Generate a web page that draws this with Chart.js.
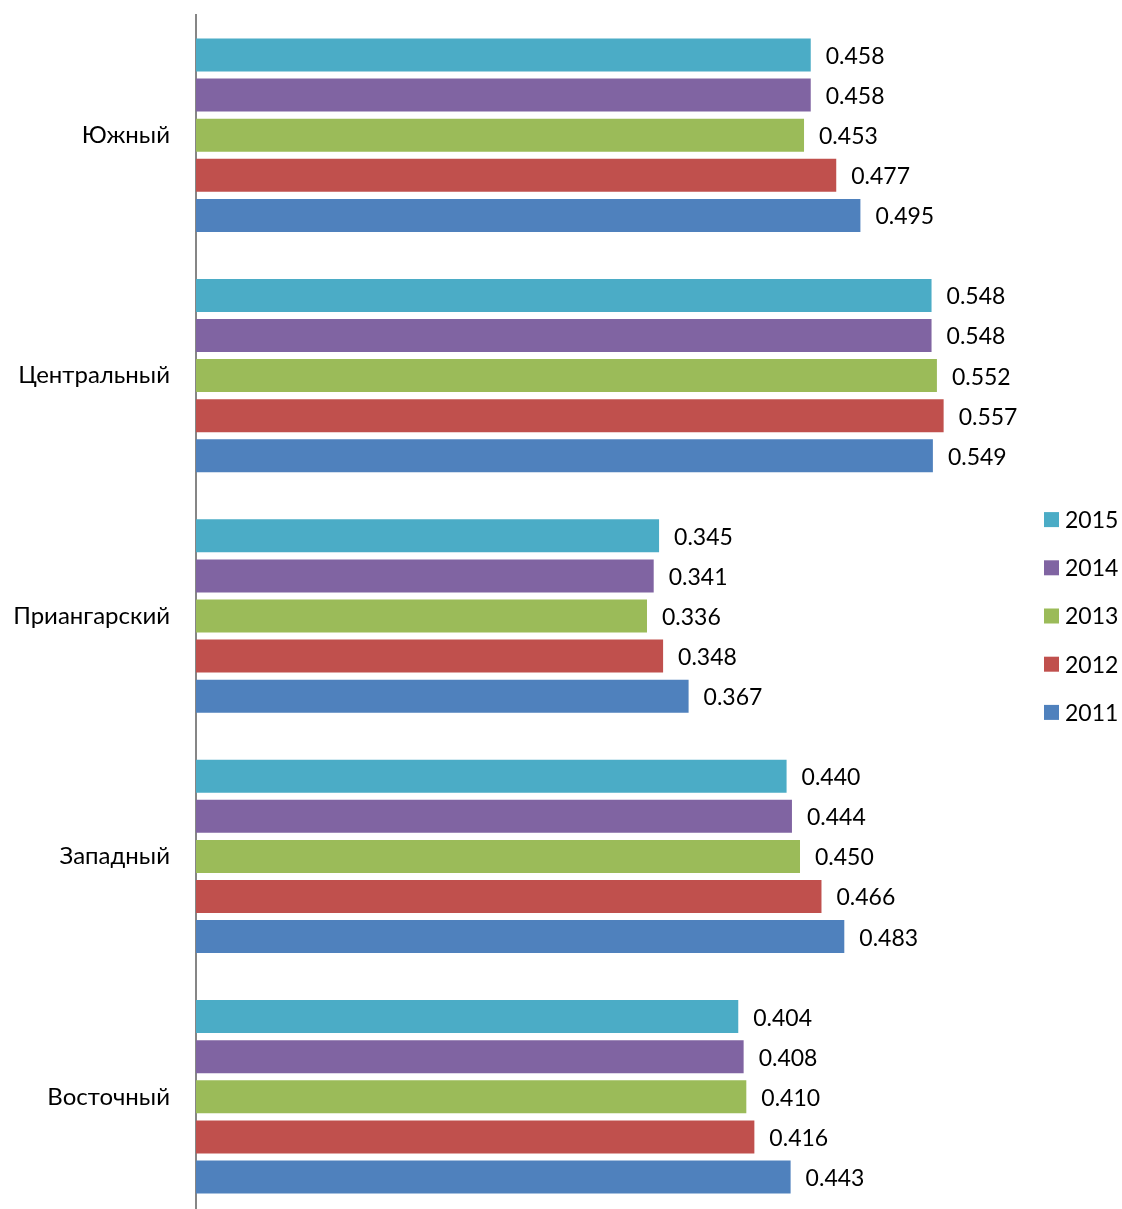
<!DOCTYPE html>
<html>
<head>
<meta charset="utf-8">
<script src="https://cdn.jsdelivr.net/npm/chart.js@4"></script>
<style>
  html, body { margin: 0; padding: 0; background: #fff; overflow: hidden; }
  #wrap { width: 1122px; height: 1222px; }
</style>
</head>
<body>
<div id="wrap"><canvas id="barChart" width="1122" height="1222"></canvas></div>
<script>
const regions = ["Южный", "Центральный", "Приангарский", "Западный", "Восточный"];
const years = ["2015", "2014", "2013", "2012", "2011"];
const colors = ["#4BACC6", "#8064A2", "#9BBB59", "#C0504D", "#4F81BD"];

const v2015 = [0.458, 0.548, 0.345, 0.440, 0.404];
const v2014 = [0.458, 0.548, 0.341, 0.444, 0.408];
const v2013 = [0.453, 0.552, 0.336, 0.450, 0.410];
const v2012 = [0.477, 0.557, 0.348, 0.466, 0.416];
const v2011 = [0.495, 0.549, 0.367, 0.483, 0.443];

const seriesValues = [v2015, v2014, v2013, v2012, v2011];
const FONT = "Lato, 'Open Sans', sans-serif";

// value labels at the end of each bar
const valueLabels = {
    id: 'valueLabels',
    afterDatasetsDraw(chart) {
        const ctx = chart.ctx;
        ctx.save();
        ctx.font = "23px " + FONT;
        ctx.fillStyle = "#000";
        ctx.textAlign = "left";
        ctx.textBaseline = "middle";
        chart.data.datasets.forEach((ds, i) => {
            chart.getDatasetMeta(i).data.forEach((bar, j) => {
                ctx.fillText(ds.data[j].toFixed(3), bar.x + 15, bar.y + 1.5);
            });
        });
        ctx.restore();
    }
};

// legend on the right, items stacked
const sideLegend = {
    id: 'sideLegend',
    afterDraw(chart) {
        const ctx = chart.ctx;
        const area = chart.chartArea;
        const step = 48.2;
        const n = chart.data.datasets.length;
        const mid = (area.top + area.bottom) / 2;
        ctx.save();
        ctx.font = "23px " + FONT;
        ctx.textAlign = "left";
        ctx.textBaseline = "middle";
        chart.data.datasets.forEach((ds, i) => {
            const y = mid + (i - (n - 1) / 2) * step;
            ctx.fillStyle = ds.backgroundColor;
            ctx.fillRect(1044, y - 7.5, 15, 15);
            ctx.fillStyle = "#000";
            ctx.fillText(ds.label, 1065, y + 1);
        });
        ctx.restore();
    }
};

const ctx = document.getElementById('barChart').getContext('2d');
new Chart(ctx, {
    type: 'bar',
    data: {
        labels: regions,
        datasets: years.map((y, i) => ({
            label: y,
            data: seriesValues[i],
            backgroundColor: colors[i],
            categoryPercentage: 0.834,
            barPercentage: 0.823
        }))
    },
    options: {
        indexAxis: 'y',
        responsive: false,
        animation: false,
        layout: { padding: { top: 15, bottom: 5, left: 0, right: 122 } },
        plugins: {
            legend: { display: false },
            tooltip: { enabled: false },
            title: { display: false }
        },
        scales: {
            x: {
                display: false,
                min: 0,
                max: 0.599
            },
            y: {
                afterFit: s => {
                    s.width = 196;
                    s.paddingTop = 0;
                    s.paddingBottom = 0;
                },
                grid: { display: true, drawOnChartArea: false, drawTicks: false },
                border: { display: true, color: '#868686', width: 2 },
                ticks: {
                    color: '#000',
                    padding: 26,
                    font: { family: FONT, size: 24 }
                }
            }
        }
    },
    plugins: [valueLabels, sideLegend]
});
</script>
</body>
</html>
